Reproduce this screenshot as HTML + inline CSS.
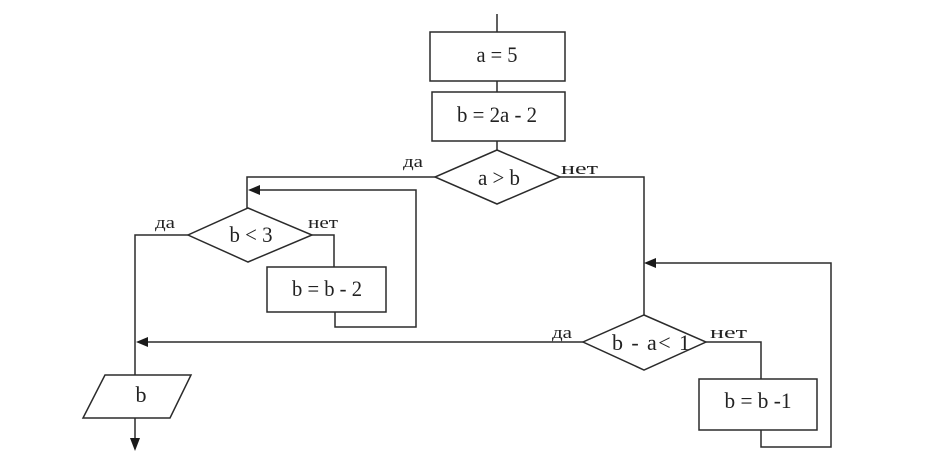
<!DOCTYPE html>
<html><head><meta charset="utf-8"><style>
html,body{margin:0;padding:0;background:#fff;}
svg{display:block;}
text{font-family:"Liberation Serif",serif;fill:#222;}
</style></head><body>
<svg width="944" height="456" viewBox="0 0 944 456" xmlns="http://www.w3.org/2000/svg">
<g fill="none" stroke="#2b2b2b" stroke-width="1.5">
<line x1="497" y1="14" x2="497" y2="32"/>
<rect x="430" y="32" width="135" height="49"/>
<line x1="497" y1="81" x2="497" y2="92"/>
<rect x="432" y="92" width="133" height="49"/>
<line x1="497" y1="141" x2="497" y2="150"/>
<polygon points="497,150 560,177 497,204 435,177"/>
<polyline points="435,177 247,177 247,208"/>
<polyline points="560,177 644,177 644,315"/>
<polygon points="248,208 312,235 248,262 188,235"/>
<polyline points="188,235 135,235 135,375"/>
<polyline points="312,235 334,235 334,267"/>
<rect x="267" y="267" width="119" height="45"/>
<polyline points="335,312 335,327 416,327 416,190 258,190"/>
<polygon points="644,315 706,342 644,370 583,342"/>
<line x1="583" y1="342" x2="146" y2="342"/>
<polyline points="706,342 761,342 761,379"/>
<rect x="699" y="379" width="118" height="51"/>
<polyline points="761,430 761,447 831,447 831,263 654,263"/>
<polygon points="105,375 191,375 170,418 83,418"/>
<line x1="135" y1="418" x2="135" y2="440"/>
</g>
<g fill="#1a1a1a" stroke="none">
<polygon points="248,190 260,185 260,195"/>
<polygon points="136,342 148,337 148,347"/>
<polygon points="644,263 656,258 656,268"/>
<polygon points="135,451 130,438 140,438"/>
</g>
<g font-size="22">
<text x="497" y="62" text-anchor="middle" textLength="41" lengthAdjust="spacingAndGlyphs">a = 5</text>
<text x="497" y="122" text-anchor="middle" textLength="80" lengthAdjust="spacingAndGlyphs">b = 2a - 2</text>
<text x="499" y="185" text-anchor="middle" textLength="42" lengthAdjust="spacingAndGlyphs">a &gt; b</text>
<text x="251" y="242" text-anchor="middle" textLength="43" lengthAdjust="spacingAndGlyphs">b &lt; 3</text>
<text x="327" y="296" text-anchor="middle" textLength="70" lengthAdjust="spacingAndGlyphs">b = b - 2</text>
<text x="651" y="350" text-anchor="middle" textLength="78" lengthAdjust="spacing">b - a&lt; 1</text>
<text x="758" y="408" text-anchor="middle" textLength="67" lengthAdjust="spacingAndGlyphs">b = b -1</text>
<text x="141" y="402" text-anchor="middle">b</text>
</g>
<g font-size="17">
<text x="403" y="167" textLength="20" lengthAdjust="spacingAndGlyphs">да</text>
<text x="561" y="174" textLength="37" lengthAdjust="spacingAndGlyphs">нет</text>
<text x="155" y="228" textLength="20" lengthAdjust="spacingAndGlyphs">да</text>
<text x="308" y="228" textLength="30" lengthAdjust="spacingAndGlyphs">нет</text>
<text x="552" y="338" textLength="20" lengthAdjust="spacingAndGlyphs">да</text>
<text x="710" y="338" textLength="37" lengthAdjust="spacingAndGlyphs">нет</text>
</g>
</svg>
</body></html>
